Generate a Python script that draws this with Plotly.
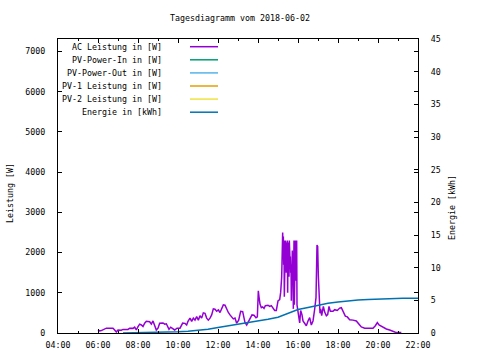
import plotly.graph_objects as go

DAY = "2018-06-02 "

# AC Leistung in [W]
ac_time = [
    "06:00", "06:05", "06:10", "06:20", "06:25", "06:35", "06:45", "06:50", "06:55", "07:00",
    "07:10", "07:15", "07:30", "07:35", "07:45", "07:50", "07:55", "08:00", "08:05", "08:10",
    "08:15", "08:20", "08:25", "08:35", "08:40", "08:45", "08:50", "08:55", "09:00", "09:05",
    "09:15", "09:20", "09:25", "09:33", "09:38", "09:45", "09:50", "09:57", "10:06", "10:14",
    "10:21", "10:26", "10:30", "10:36", "10:41", "10:46", "10:51", "10:56", "11:01", "11:06",
    "11:11", "11:16", "11:21", "11:26", "11:31", "11:36", "11:41", "11:46", "11:51", "11:56",
    "12:01", "12:06", "12:11", "12:16", "12:21", "12:26", "12:31", "12:36", "12:41", "12:46",
    "12:51", "12:56", "13:02", "13:08", "13:14", "13:21", "13:26", "13:31", "13:36", "13:42",
    "13:48", "13:54", "13:58", "14:01", "14:03", "14:06", "14:10", "14:14", "14:18", "14:22",
    "14:30", "14:35", "14:40", "14:45", "14:50", "14:55", "15:00", "15:05", "15:08", "15:11",
    "15:13", "15:14", "15:15", "15:16", "15:17", "15:18", "15:19", "15:20", "15:21", "15:22",
    "15:24", "15:25", "15:26", "15:27", "15:28", "15:29", "15:30", "15:31", "15:32", "15:33",
    "15:34", "15:36", "15:37", "15:38", "15:39", "15:40", "15:41", "15:42", "15:43", "15:44",
    "15:45", "15:46", "15:48", "15:49", "15:50", "15:52", "15:54", "15:56", "15:57", "15:59",
    "16:02", "16:05", "16:08", "16:12", "16:15", "16:20", "16:25", "16:30", "16:35", "16:40",
    "16:45", "16:50", "16:54", "16:57", "16:59", "17:01", "17:04", "17:06", "17:08", "17:11",
    "17:16", "17:20", "17:25", "17:29", "17:33", "17:37", "17:45", "17:50", "17:58", "18:05",
    "18:10", "18:15", "18:22", "18:28", "18:35", "18:45", "18:55", "19:05", "19:10", "19:20",
    "19:35", "19:45", "19:52", "19:58", "20:03", "20:10", "20:17", "20:25", "20:35", "20:45",
    "20:52", "21:00", "21:10",
]
ac_power = [
    75, 50, 60, 100, 120, 115, 120, 75, 25, 75,
    70, 90, 90, 120, 115, 145, 75, 160, 220, 200,
    160, 245, 290, 280, 220, 300, 180, 75, 120, 245,
    250, 220, 230, 90, 145, 100, 75, 120, 120, 245,
    240, 200, 290, 370, 290, 370, 320, 410, 320, 430,
    370, 500, 490, 370, 320, 370, 450, 600, 590, 540,
    575, 510, 620, 700, 690, 575, 510, 450, 410, 350,
    370, 245, 320, 540, 530, 260, 200, 290, 350, 450,
    440, 380, 400, 1050, 900, 720, 630, 650, 610, 680,
    690, 660, 680, 600, 560, 560, 800, 830, 1010, 1390,
    1900, 2500, 2000, 2400, 1700, 2300, 900, 2200, 1100, 2300,
    2150, 1500, 2250, 1800, 2300, 1000, 2250, 1600, 2200, 1400,
    2300, 1800, 1900, 1500, 1700, 800, 1700, 1300, 2050, 1300,
    1700, 600, 2300, 700, 1200, 2300, 1300, 2300, 700, 560,
    460, 250, 560, 450, 300, 220, 180, 300, 380, 200,
    300, 590, 880, 2190, 2150, 1420, 1010, 490, 600, 430,
    660, 520, 430, 460, 660, 540, 540, 580, 560, 620,
    630, 540, 420, 400, 330, 320, 300, 200, 150, 120,
    120, 120, 180, 260, 200, 170, 120, 100, 75, 40,
    20, 15, 10,
]

# Energie in [kWh]
energy_time = [
    "07:15", "08:30", "09:00", "09:30", "10:00", "10:30", "11:00", "11:30", "12:00", "12:30",
    "13:00", "13:30", "14:00", "14:30", "15:00", "15:15", "15:30", "15:45", "16:00", "16:30",
    "17:00", "17:15", "17:30", "18:00", "18:30", "19:00", "19:30", "20:00", "20:30", "21:00",
    "21:15", "22:00",
]
energy_kwh = [
    0.0, 0.05, 0.1, 0.15, 0.2, 0.28, 0.4, 0.58, 0.85, 1.08,
    1.3, 1.55, 1.8, 2.1, 2.4, 2.7, 3.1, 3.4, 3.6, 3.9,
    4.2, 4.45, 4.55, 4.75, 4.93, 5.05, 5.13, 5.2, 5.27, 5.31,
    5.33, 5.33,
]

# series without data on this day
pv_power_in = []
pv_power_out = []
pv1_power = []
pv2_power = []

series_names = [
    "AC Leistung in [W]", "PV-Power-In in [W]", "PV-Power-Out in [W]",
    "PV-1 Leistung in [W]", "PV-2 Leistung in [W]", "Energie in [kWh]",
]
series_colors = ["#9400D3", "#009E73", "#56B4E9", "#E69F00", "#F0E442", "#0072B2"]

x_ticks = ["04:00", "06:00", "08:00", "10:00", "12:00", "14:00", "16:00", "18:00", "20:00", "22:00"]

FONT = "DejaVu Sans Mono"
FS = 8.3

fig = go.Figure()
ac_x = [DAY + t for t in ac_time]
en_x = [DAY + t for t in energy_time]

fig.add_trace(go.Scatter(x=ac_x, y=ac_power, mode="lines",
                         line=dict(color=series_colors[0], width=1.5), showlegend=False))
for data, col in zip([pv_power_in, pv_power_out, pv1_power, pv2_power], series_colors[1:5]):
    fig.add_trace(go.Scatter(x=[], y=data, mode="lines",
                             line=dict(color=col, width=1.5), showlegend=False))
fig.add_trace(go.Scatter(x=en_x, y=energy_kwh, mode="lines", yaxis="y2",
                         line=dict(color=series_colors[5], width=1.5), showlegend=False))

FIG_W, FIG_H = 480, 360
# plot area in page pixels
L, T, W_, H_ = 58, 39, 360, 294
def px(x):
    return (x - L) / W_
def py(y):
    return (T + H_ - y) / H_

annotations = []
shapes = []
for i, (name, col) in enumerate(zip(series_names, series_colors)):
    yy = 46.7 + i * 13.1
    annotations.append(dict(x=px(164), y=py(yy), xref="paper", yref="paper", text=name,
                            showarrow=False, xanchor="right", yanchor="middle",
                            font=dict(family=FONT, size=FS, color="black")))
    shapes.append(dict(type="line", xref="paper", yref="paper", x0=px(190), x1=px(218),
                       y0=py(yy), y1=py(yy), line=dict(color=col, width=1.5)))

annotations.append(dict(x=px(10), y=py(193), xref="paper", yref="paper", text="Leistung [W]",
                        textangle=-90, showarrow=False, xanchor="center", yanchor="middle",
                        font=dict(family=FONT, size=FS, color="black")))
annotations.append(dict(x=px(452), y=py(208), xref="paper", yref="paper", text="Energie [kWh]",
                        textangle=-90, showarrow=False, xanchor="center", yanchor="middle",
                        font=dict(family=FONT, size=FS, color="black")))

fig.update_layout(
    width=FIG_W, height=FIG_H,
    margin=dict(l=L, r=FIG_W - L - W_, t=T, b=FIG_H - T - H_, pad=0, autoexpand=False),
    paper_bgcolor="white", plot_bgcolor="white",
    font=dict(family=FONT, size=FS, color="black"),
    title=dict(text="Tagesdiagramm vom 2018-06-02", x=240 / FIG_W, xanchor="center",
               y=1 - 18 / FIG_H, yanchor="middle", font=dict(family=FONT, size=FS)),
    xaxis=dict(type="date", range=[DAY + "04:00", DAY + "22:00"],
               tickvals=[DAY + t for t in x_ticks], ticktext=x_ticks,
               ticks="inside", ticklen=4, tickcolor="black",
               minor=dict(dtick=3600000, ticks="inside", ticklen=2, tickcolor="black"),
               showline=True, linecolor="black", linewidth=1, mirror="ticks",
               showgrid=False, zeroline=False, ticklabelstandoff=4, automargin=False),
    yaxis=dict(range=[0, 7310], tickvals=[0, 1000, 2000, 3000, 4000, 5000, 6000, 7000],
               ticks="inside", ticklen=4, tickcolor="black",
               showline=True, linecolor="black", linewidth=1, mirror="ticks",
               showgrid=False, zeroline=False, ticklabelstandoff=10, automargin=False),
    yaxis2=dict(range=[0, 45], tickvals=[0, 5, 10, 15, 20, 25, 30, 35, 40, 45],
                overlaying="y", side="right", ticks="inside", ticklen=4, tickcolor="black",
                showline=True, linecolor="black", linewidth=1,
                showgrid=False, zeroline=False, ticklabelstandoff=10, automargin=False),
    annotations=annotations, shapes=shapes,
)

# remove the default page margin so the figure sits at the window's top-left corner
fig.write_html("out.html", config={"displayModeBar": False},
               post_script="document.body.style.margin='0';document.body.style.overflow='hidden';")
